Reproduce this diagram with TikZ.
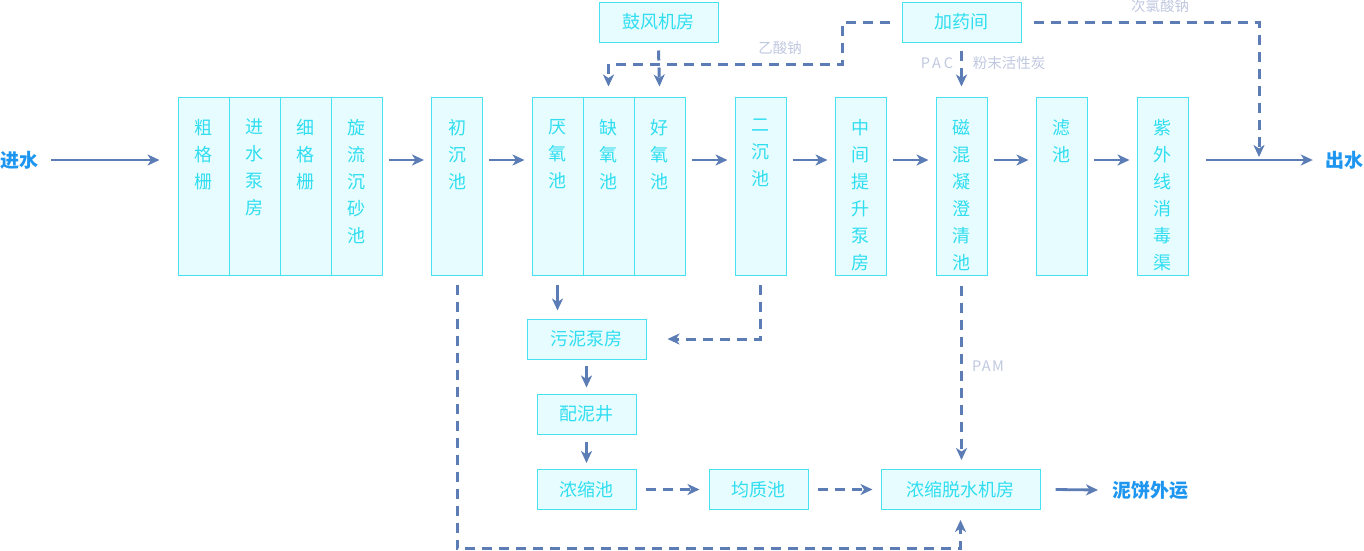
\documentclass[tikz,border=0pt]{standalone}
\usepackage{fontspec}
\setmainfont{Noto Sans CJK SC}
\usepackage{tikz}
\usetikzlibrary{arrows.meta, positioning, calc}
\definecolor{cBorder}{RGB}{70,226,242}
\definecolor{cFill}{RGB}{230,252,255}
\definecolor{cText}{RGB}{48,222,240}
\definecolor{cFlow}{RGB}{91,124,181}
\definecolor{cNote}{RGB}{192,200,224}
\definecolor{cEnd}{RGB}{30,150,240}
\newcommand{\coltxt}[1]{\parbox[t][178pt][t]{51pt}{\centering\vspace*{22pt}\fontsize{18}{27}\selectfont #1}}
\tikzset{
	column/.style  ={rectangle, draw=cBorder, line width=1pt, fill=cFill, minimum width=51pt, minimum height=178pt, inner sep=0pt, text=cText},
	unit/.style    ={rectangle, draw=cBorder, line width=1pt, fill=cFill, minimum width=119pt, minimum height=40pt, inner sep=0pt, text=cText, font=\fontsize{18}{20}\selectfont},
	endtxt/.style  ={text=cEnd, font=\fontsize{19}{20}\selectfont\bfseries, inner sep=0pt},
	note/.style    ={text=cNote, font=\fontsize{14.5}{15}\selectfont, inner sep=0pt},
	flow/.style    ={-{Stealth[length=12pt, width=11pt, inset=3.5pt]}, line width=2.8pt, draw=cFlow},
	dose/.style    ={flow, line width=3pt, dash pattern=on 10pt off 7pt},
}
\begin{document}
\begin{tikzpicture}[x=1pt, y=1pt]
	\useasboundingbox (0,0) rectangle (1364,-550);
	% main line
	\node[endtxt] (jinshui) at (20,-160) {进水};
	\node[column] (cgs) at (203.5,-186) {\coltxt{粗\\格\\栅}};
	\node[column] (jsb) at (254.5,-186) {\coltxt{进\\水\\泵\\房}};
	\node[column] (xgs) at (305.5,-186) {\coltxt{细\\格\\栅}};
	\node[column] (xlc) at (356.5,-186) {\coltxt{旋\\流\\沉\\砂\\池}};
	\node[column] (ccc) at (457,-186) {\coltxt{初\\沉\\池}};
	\node[column] (yyc) at (557.5,-186) {\coltxt{厌\\氧\\池}};
	\node[column] (qyc) at (608.5,-186) {\coltxt{缺\\氧\\池}};
	\node[column] (hyc) at (659.5,-186) {\coltxt{好\\氧\\池}};
	\node[column] (ecc) at (760.5,-186) {\coltxt{二\\沉\\池}};
	\node[column] (zjt) at (860.5,-186) {\coltxt{中\\间\\提\\升\\泵\\房}};
	\node[column] (chn) at (961.5,-186) {\coltxt{磁\\混\\凝\\澄\\清\\池}};
	\node[column] (lc)  at (1061.5,-186) {\coltxt{滤\\池}};
	\node[column] (zwx) at (1162.5,-186) {\coltxt{紫\\外\\线\\消\\毒\\渠}};
	\node[endtxt] (chushui) at (1344,-160) {出水};
	\draw[flow] (jinshui.east) ++(12,0) -- ([shift={(-18,26)}]cgs.west);
	\draw[flow] ([shift={(6,26)}]xlc.east) -- ([shift={(-7,26)}]ccc.west);
	\draw[flow] ([shift={(6,26)}]ccc.east) -- ([shift={(-7,26)}]yyc.west);
	\draw[flow] ([shift={(6,26)}]hyc.east) -- ([shift={(-7,26)}]ecc.west);
	\draw[flow] ([shift={(6,26)}]ecc.east) -- ([shift={(-7,26)}]zjt.west);
	\draw[flow] ([shift={(6,26)}]zjt.east) -- ([shift={(-7,26)}]chn.west);
	\draw[flow] ([shift={(6,26)}]chn.east) -- ([shift={(-7,26)}]lc.west);
	\draw[flow] ([shift={(6,26)}]lc.east) -- ([shift={(-7,26)}]zwx.west);
	\draw[flow] ([shift={(17,26)}]zwx.east) -- ([xshift=-12]chushui.west);
	% air and chemicals
	\node[unit] (gfj) at (658.5,-22) {鼓风机房};
	\node[unit] (jyj) at (961.5,-22) {加药间};
	\coordinate (acet) at (842,-64);
	\coordinate (naclo) at (1259,-157);
	\draw[dose] ([xshift=-12]jyj.west) -| (acet) -| ([yshift=10]qyc.north);
	\draw[dose] ([yshift=-8]gfj.south) -- ([yshift=10]hyc.north);
	\draw[dose] ([yshift=-8]jyj.south) -- ([yshift=10]chn.north);
	\draw[dose] ([xshift=12]jyj.east) -| (naclo);
	\node[note] (yisuan) at (780,-48) {乙酸钠};
	\node[note, font=\fontsize{14.5}{15}\selectfont\addfontfeature{LetterSpace=20}] (pac) at (937,-63) {PAC};
	\node[note] (fenmo) at (1009,-63) {粉末活性炭};
	\node[note] (cilv) at (1160,-6) {次氯酸钠};
	% sludge line
	\node[unit] (wnb) at (586.5,-339) {污泥泵房};
	\node[unit, minimum width=99pt] (pnj) at (586.5,-414) {配泥井};
	\node[unit, minimum width=99pt] (nsc) at (586.5,-489.5) {浓缩池};
	\node[unit, minimum width=99pt] (jzc) at (758.5,-489.5) {均质池};
	\node[unit, minimum width=159pt] (tsj) at (960.5,-489.5) {浓缩脱水机房};
	\node[endtxt, anchor=west] (nibing) at (1112,-490) {泥饼外运};
	\draw[flow] ([yshift=-9]yyc.south) -- ([yshift=8]yyc.south |- wnb.north);
	\draw[dose] ([yshift=-9]ecc.south) |- ([xshift=21]wnb.east);
	\draw[flow] ([yshift=-6]wnb.south) -- ([yshift=6]pnj.north);
	\draw[flow] ([yshift=-7]pnj.south) -- ([yshift=6]nsc.north);
	\draw[dose] ([xshift=9]nsc.east) -- ([xshift=-9]jzc.west);
	\draw[dose] ([xshift=9]jzc.east) -- ([xshift=-8]tsj.west);
	\draw[flow] ([xshift=15]tsj.east) -- ([xshift=-14]nibing.west);
	\draw[dose] ([yshift=-9]ccc.south) -- ++(0,-264) -| ([yshift=-10]tsj.south);
	\draw[dose] ([yshift=-10]chn.south) -- ([yshift=9]chn.south |- tsj.north);
	\node[note, font=\fontsize{14.5}{15}\selectfont\addfontfeature{LetterSpace=10}] (pam) at (988,-366) {PAM};
\end{tikzpicture}
\end{document}
